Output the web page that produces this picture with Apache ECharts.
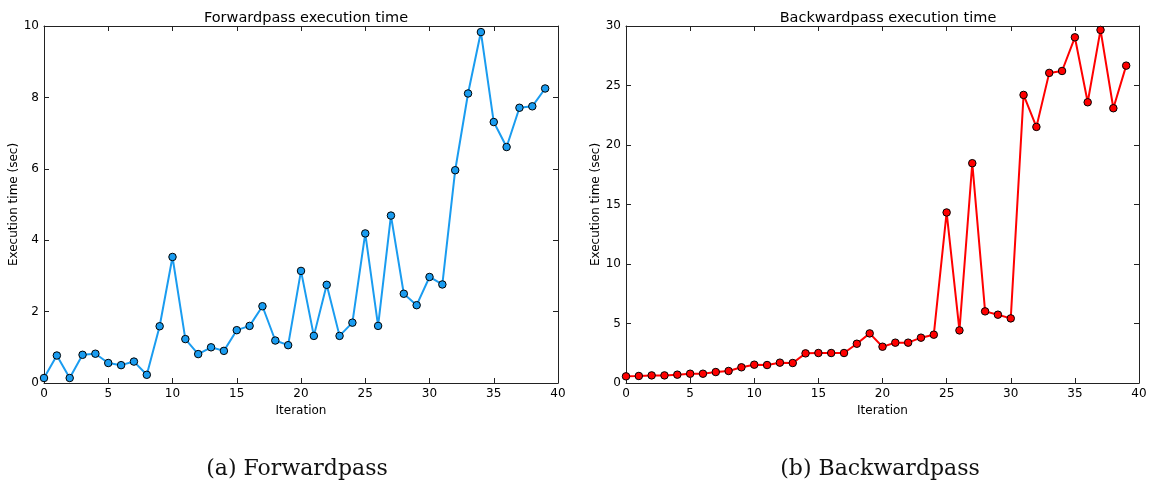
<!DOCTYPE html>
<html>
<head>
<meta charset="utf-8">
<script src="https://cdn.jsdelivr.net/npm/echarts@6/dist/echarts.min.js"></script>
<style>
  html, body { margin: 0; padding: 0; background: #fff; }
  #chart { width: 1150px; height: 484px; }
</style>
</head>
<body>
<div id="chart"></div>
<script>
// Iteration index for both passes
const iterations = Array.from({ length: 40 }, (_, i) => i);

// Forward pass execution time per iteration (sec)
const forwardTimes = [
  0.14, 0.77, 0.14, 0.79, 0.82, 0.56, 0.50, 0.60, 0.23, 1.59,
  3.53, 1.23, 0.81, 1.00, 0.90, 1.48, 1.60, 2.15, 1.19, 1.06,
  3.14, 1.32, 2.75, 1.32, 1.69, 4.19, 1.60, 4.69, 2.50, 2.18,
  2.97, 2.76, 5.96, 8.11, 9.83, 7.31, 6.61, 7.71, 7.75, 8.25
];

// Backward pass execution time per iteration (sec)
const backwardTimes = [
  0.56, 0.59, 0.64, 0.64, 0.70, 0.78, 0.78, 0.92, 1.01, 1.32,
  1.54, 1.51, 1.71, 1.68, 2.49, 2.52, 2.52, 2.52, 3.30, 4.17,
  3.05, 3.39, 3.39, 3.81, 4.06, 14.33, 4.42, 18.47, 6.02, 5.74,
  5.43, 24.21, 21.52, 26.06, 26.22, 29.05, 23.59, 29.67, 23.09, 26.67
];

const plotTitles = ['Forwardpass execution time', 'Backwardpass execution time'];
const captions = ['(a) Forwardpass', '(b) Backwardpass'];
const xAxisName = 'Iteration';
const yAxisName = 'Execution time (sec)';
const yMax = [10, 30];
const yStep = [2, 5];

const sans = 'DejaVu Sans';
const serif = 'DejaVu Serif';

const grids = [
  { left: 44, top: 26, width: 514, height: 357 },
  { left: 626, top: 26, width: 513, height: 357 }
];

const frameColor = '#222';
const axisLine = { show: true, onZero: false, lineStyle: { color: frameColor, width: 1 } };
const tickIn = { show: true, inside: true, length: 5, lineStyle: { color: frameColor, width: 1 } };

const xAxes = [];
const yAxes = [];
[0, 1].forEach(g => {
  // bottom axis with labels
  xAxes.push({
    type: 'value', gridIndex: g, position: 'bottom', min: 0, max: 40, interval: 5,
    name: xAxisName, nameLocation: 'middle', nameGap: 21,
    nameTextStyle: { fontFamily: sans, fontSize: 12, color: '#000' },
    axisLine, axisTick: tickIn, splitLine: { show: false },
    axisLabel: { fontFamily: sans, fontSize: 12, color: '#000', margin: 5 }
  });
  // top edge of the frame, ticks only
  xAxes.push({
    type: 'value', gridIndex: g, position: 'top', min: 0, max: 40, interval: 5,
    axisLine, axisTick: tickIn, splitLine: { show: false }, axisLabel: { show: false }
  });
  // left axis with labels
  yAxes.push({
    type: 'value', gridIndex: g, position: 'left', min: 0, max: yMax[g], interval: yStep[g],
    name: yAxisName, nameLocation: 'middle', nameGap: 21,
    nameTextStyle: { fontFamily: sans, fontSize: 12, color: '#000' },
    axisLine, axisTick: tickIn, splitLine: { show: false },
    axisLabel: { fontFamily: sans, fontSize: 12, color: '#000', margin: 5 }
  });
  // right edge of the frame, ticks only
  yAxes.push({
    type: 'value', gridIndex: g, position: 'right', min: 0, max: yMax[g], interval: yStep[g],
    axisLine, axisTick: tickIn, splitLine: { show: false }, axisLabel: { show: false }
  });
});

function lineSeries(values, gridIdx, color) {
  return {
    type: 'line',
    xAxisIndex: gridIdx * 2,
    yAxisIndex: gridIdx * 2,
    data: iterations.map((it, i) => [it, values[i]]),
    symbol: 'circle',
    symbolSize: 7.5,
    showSymbol: true,
    clip: false,
    lineStyle: { color, width: 2 },
    itemStyle: { color, borderColor: '#000', borderWidth: 1 },
    animation: false
  };
}

const chart = echarts.init(document.getElementById('chart'), null, { renderer: 'canvas' });
chart.setOption({
  backgroundColor: '#fff',
  animation: false,
  title: [
    { text: plotTitles[0], left: 301, top: 6, textAlign: 'center',
      textStyle: { fontFamily: sans, fontSize: 14.5, fontWeight: 'normal', color: '#000' } },
    { text: plotTitles[1], left: 883, top: 6, textAlign: 'center',
      textStyle: { fontFamily: sans, fontSize: 14.5, fontWeight: 'normal', color: '#000' } },
    { text: captions[0], left: 292, top: 453, textAlign: 'center',
      textStyle: { fontFamily: serif, fontSize: 22, fontWeight: 'normal', color: '#111' } },
    { text: captions[1], left: 875, top: 453, textAlign: 'center',
      textStyle: { fontFamily: serif, fontSize: 22, fontWeight: 'normal', color: '#111' } }
  ],
  grid: grids,
  xAxis: xAxes,
  yAxis: yAxes,
  series: [
    lineSeries(forwardTimes, 0, '#1a9cf0'),
    lineSeries(backwardTimes, 1, '#ff0000')
  ]
});
</script>
</body>
</html>
